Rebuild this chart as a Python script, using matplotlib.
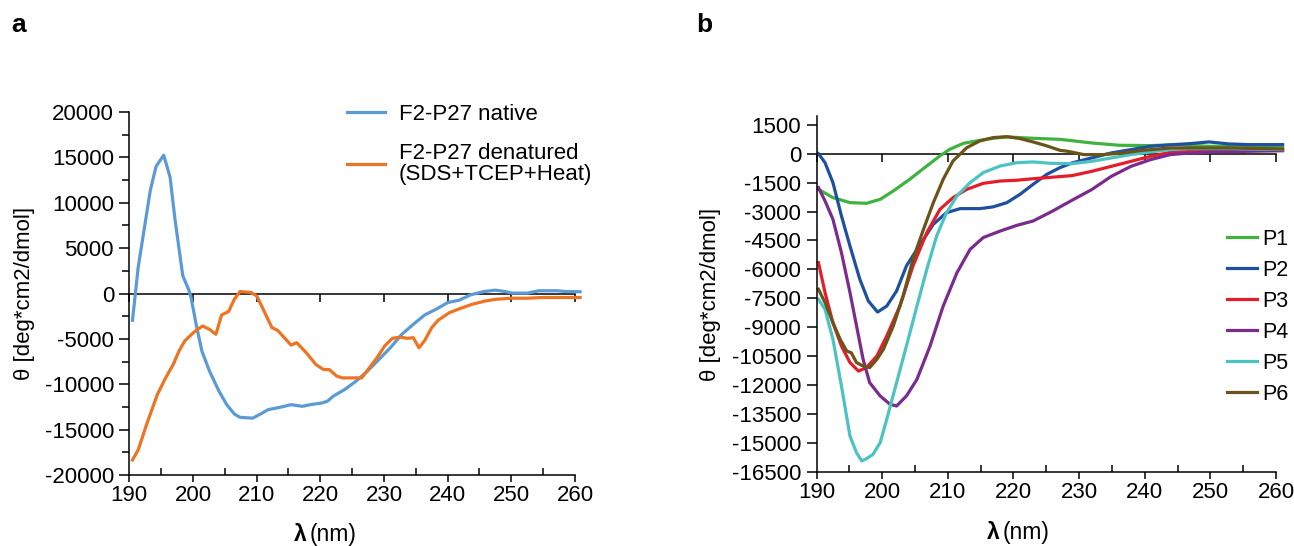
import matplotlib
matplotlib.use("Agg")
import matplotlib.pyplot as plt
from matplotlib.ticker import MultipleLocator

plt.rcParams['font.family'] = ['Liberation Sans', 'DejaVu Sans']
plt.rcParams['axes.unicode_minus'] = False

# ---- panel a: F2-P27 native vs denatured ----
wl_native = [190.5, 191.4, 193.3, 194.2, 195.4, 196.4, 197.2, 198.4, 199.3, 199.7,
             200.5, 201.4, 202.6, 204.1, 205.3, 206.5, 207.4, 209.4, 210.6, 211.8,
             213.6, 215.4, 217.2, 218.4, 220.2, 221.1, 222.0, 223.8, 225.6, 227.4,
             229.2, 231.0, 232.8, 234.6, 236.4, 238.2, 240.0, 241.8, 243.6, 245.7,
             247.5, 249.0, 250.1, 252.5, 254.3, 257.3, 258.5, 260.8]
native = [-2950, 2900, 11370, 14000, 15240, 12840, 8040, 1950, 480, -440,
          -3400, -6350, -8560, -10780, -12250, -13280, -13650, -13730, -13280, -12800,
          -12550, -12250, -12430, -12250, -12070, -11880, -11330, -10590, -9670, -8560,
          -7270, -5980, -4500, -3400, -2360, -1730, -1000, -740, -150, 220,
          370, 220, 40, 40, 300, 300, 220, 190]

wl_den = [190.5, 191.4, 192.7, 194.4, 195.7, 196.9, 197.8, 198.7, 199.9, 200.5,
          201.5, 202.6, 203.6, 204.5, 205.6, 206.5, 207.4, 209.1, 210.0, 210.9,
          212.4, 213.3, 215.4, 216.3, 217.8, 219.3, 220.5, 221.4, 222.6, 223.5,
          225.3, 226.5, 227.7, 228.9, 230.1, 231.3, 232.5, 233.7, 234.6, 235.5,
          236.4, 237.5, 238.5, 240.3, 242.1, 243.9, 246.0, 247.7, 250.1, 252.5,
          254.9, 260.8]
denatured = [-18340, -17230, -14460, -11140, -9300, -7820, -6350, -5240, -4430, -4060,
             -3580, -3950, -4500, -2360, -1990, -630, 220, 110, -260, -1550,
             -3760, -4060, -5680, -5420, -6530, -7820, -8380, -8380, -9110, -9300,
             -9300, -9300, -8190, -7080, -5790, -4940, -4800, -4940, -4870, -5980,
             -5170, -3760, -2950, -2100, -1620, -1180, -810, -630, -520, -520,
             -440, -440]

# ---- panel b: peptides P1..P6 ----
wl_p1 = [190.3, 192.5, 195.1, 197.6, 199.7, 201.7, 204.2, 206.8, 208.8, 210.3,
         212.4, 214.4, 216.9, 219.0, 223.0, 227.1, 231.9, 236.1, 240.9, 244.5,
         249.8, 255.8, 261]
p1 = [-1850, -2280, -2540, -2575, -2370, -1935, -1330, -640, -120, 225,
      535, 660, 795, 865, 795, 740, 554, 433, 415, 467,
      380, 380, 380]

wl_p2 = [190.3, 191.3, 192.5, 193.8, 195.1, 196.6, 197.9, 199.3, 200.7, 202.2,
         203.7, 205.8, 207.8, 209.8, 211.9, 214.9, 216.9, 219.0, 221.0, 223.0,
         225.1, 227.1, 228.9, 231.9, 234.9, 237.9, 240.9, 244.5, 246.9, 249.8,
         252.8, 255.8, 261]
p2 = [0, -470, -1500, -3230, -4790, -6510, -7640, -8210, -7900, -7120,
      -5820, -4700, -3660, -3060, -2850, -2850, -2760, -2540, -2110, -1590,
      -1070, -725, -485, -225, 35, 208, 380, 467, 519, 606,
      502, 467, 467]

wl_p3 = [190.3, 191.3, 192.5, 193.8, 195.1, 196.4, 197.6, 199.2, 200.7, 202.7,
         204.7, 206.8, 208.8, 210.8, 212.9, 215.4, 218.0, 220.5, 223.0, 227.1,
         228.9, 231.9, 234.9, 237.9, 240.9, 243.9, 246.9, 249.8, 255.8, 261]
p3 = [-5650, -7200, -8760, -9970, -10830, -11270, -11090, -10490, -9450, -7900,
      -5820, -4100, -2890, -2280, -1850, -1540, -1420, -1380, -1300, -1190,
      -1140, -920, -660, -400, -140, 70, 170, 210, 210, 210]

wl_p4 = [190.3, 191.3, 192.5, 193.8, 195.1, 196.1, 197.1, 198.1, 199.7, 201.2,
         202.2, 203.7, 205.3, 207.3, 209.3, 211.4, 213.4, 215.4, 218.0, 220.5,
         223.0, 225.9, 228.9, 231.9, 234.9, 237.9, 240.9, 243.9, 246.9, 249.8,
         255.8, 261]
p4 = [-1760, -2450, -3400, -5130, -7200, -8930, -10660, -11870, -12560, -12990,
      -13080, -12560, -11700, -9970, -7900, -6170, -4960, -4350, -4010, -3720,
      -3490, -2990, -2420, -1870, -1180, -660, -310, -50, 35, 85,
      120, 150]

wl_p5 = [190.3, 191.3, 192.5, 193.8, 195.1, 196.1, 196.9, 197.6, 198.6, 199.7,
         200.7, 202.2, 203.7, 205.3, 206.8, 208.3, 209.8, 211.4, 213.4, 215.4,
         218.0, 220.5, 223.0, 225.6, 228.9, 231.9, 234.9, 237.9, 240.9, 243.9,
         246.9, 252.8, 261]
p5 = [-7550, -8070, -9620, -12040, -14640, -15500, -15930, -15810, -15590, -14980,
      -13770, -11870, -9970, -7900, -6000, -4270, -3060, -2190, -1500, -985,
      -640, -470, -430, -500, -520, -400, -225, -50, 85, 210,
      260, 260, 210]

wl_p6 = [190.3, 191.3, 192.5, 193.6, 194.6, 195.3, 196.1, 197.1, 198.1, 199.2,
         200.2, 201.7, 203.2, 204.7, 206.3, 207.8, 209.3, 210.8, 212.9, 214.9,
         216.9, 219.0, 221.0, 223.0, 225.1, 227.1, 228.3, 230.7, 233.7, 236.7,
         239.7, 243.9, 252.8, 261]
p6 = [-7030, -7720, -8760, -9620, -10230, -10320, -10830, -11010, -11090, -10660,
      -10140, -8930, -7380, -5480, -3920, -2540, -1330, -380, 310, 660,
      830, 880, 780, 605, 400, 170, 120, -50, -50, 35,
      170, 295, 295, 240]

peptides = ['P1', 'P2', 'P3', 'P4', 'P5', 'P6']
pep_wl = [wl_p1, wl_p2, wl_p3, wl_p4, wl_p5, wl_p6]
pep_vals = [p1, p2, p3, p4, p5, p6]
pep_colors = ['#3fb23f', '#1f4f9f', '#e31e2a', '#7b2a8d', '#4cc3c3', '#6b5419']

W, H = 1294, 546
fig = plt.figure(figsize=(W / 100, H / 100), dpi=100)


def style_axes(ax, ymin, ymax, ystep, yminor=None):
    ax.set_xlim(190, 260)
    ax.set_ylim(ymin, ymax)
    for s in ['top', 'right']:
        ax.spines[s].set_visible(False)
    for s in ['left', 'bottom']:
        ax.spines[s].set_linewidth(1.1)
    ax.xaxis.set_major_locator(MultipleLocator(10))
    ax.xaxis.set_minor_locator(MultipleLocator(5))
    ax.yaxis.set_major_locator(MultipleLocator(ystep))
    if yminor:
        ax.yaxis.set_minor_locator(MultipleLocator(yminor))
    ax.tick_params(axis='x', which='major', direction='out', length=5,
                   width=1.1, labelsize=16, pad=2)
    ax.tick_params(axis='x', which='minor', direction='in', length=5, width=1.1)
    ax.tick_params(axis='y', which='major', direction='out', length=7,
                   width=1.1, labelsize=16, pad=4)
    ax.tick_params(axis='y', which='minor', direction='out', length=5, width=1.1)
    # zero line with downward ticks
    zero = ax.secondary_xaxis(0, transform=ax.transData)
    zero.spines['bottom'].set_linewidth(1.1)
    zero.xaxis.set_major_locator(MultipleLocator(10))
    zero.tick_params(axis='x', direction='out', length=6, width=1.1,
                     labelbottom=False)


def xlabel(ax, xs, y):
    ax.text(xs, y, 'λ', transform=ax.transAxes, ha='right', va='center',
            fontsize=16.5, fontweight='bold')
    ax.text(xs + 0.007, y, '(nm)', transform=ax.transAxes, ha='left',
            va='center', fontsize=16.5)


# panel a
ax1 = fig.add_axes([129.3 / W, 1 - 475 / H, (575 - 129.3) / W, (475 - 112) / H])
ax1.plot(wl_native, native, color='#5b9bd5', lw=2.3, label='F2-P27 native',
         clip_on=False, solid_joinstyle='round')
ax1.plot(wl_den, denatured, color='#ec7423', lw=2.3,
         label='F2-P27 denatured\n(SDS+TCEP+Heat)', clip_on=False,
         solid_joinstyle='round')
style_axes(ax1, -20000, 20000, 5000, 2500)
ax1.set_ylabel('θ [deg*cm2/dmol]', fontsize=16)
ax1.yaxis.set_label_coords(-0.212, 0.5)
xlabel(ax1, 0.3987, -0.163)
leg1 = ax1.legend(loc='upper left', bbox_to_anchor=(347 / W, 1 - 104 / H),
                  bbox_transform=fig.transFigure, frameon=False, fontsize=16,
                  handlelength=1.7, handletextpad=0.63, borderpad=0,
                  borderaxespad=0, labelspacing=0.83)
for t in leg1.get_texts():
    t.set_linespacing(0.95)

# panel b
ax2 = fig.add_axes([816.5 / W, 1 - 472 / H, (1276 - 816.5) / W, (472 - 116) / H])
for name, wl, vals, c in zip(peptides, pep_wl, pep_vals, pep_colors):
    ax2.plot(wl, vals, color=c, lw=2.3, label=name, clip_on=False,
             solid_joinstyle='round')
style_axes(ax2, -16500, 1950, 1500)
ax2.set_ylabel('θ [deg*cm2/dmol]', fontsize=16)
ax2.yaxis.set_label_coords(-0.208, 0.5)
xlabel(ax2, 0.398, -0.17)
ax2.legend(loc='upper left', bbox_to_anchor=(1227 / W, 1 - 229 / H),
           bbox_transform=fig.transFigure, frameon=False, fontsize=15.5,
           handlelength=1.4, handletextpad=0.25, borderpad=0,
           borderaxespad=0, labelspacing=0.46)

fig.text(11 / W, 1 - 25 / H, 'a', fontsize=19, fontweight='bold', va='center')
fig.text(696 / W, 1 - 25 / H, 'b', fontsize=19, fontweight='bold', va='center')

fig.savefig('out.png', dpi=100)
